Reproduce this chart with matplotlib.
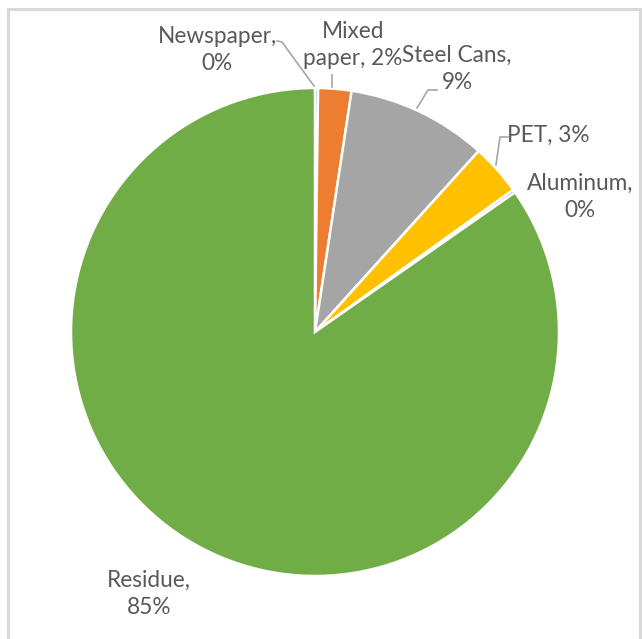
import matplotlib.pyplot as plt
from matplotlib.patches import Rectangle

# material shares (percent)
materials = ["Newspaper", "Mixed paper", "Steel Cans", "PET", "Aluminum", "Residue"]
shares = [0.2, 2.2, 9.3, 3.4, 0.2, 84.7]
colors = ["#4472C4", "#ED7D31", "#A5A5A5", "#FFC000", "#5B9BD5", "#70AD47"]

W, H = 642, 639
fig = plt.figure(figsize=(W / 100, H / 100), dpi=100)
ax = fig.add_axes([0, 0, 1, 1])

# pixel-style coords: y measured from the top
cx, cy, r = 315, H - 332, 244
ax.pie(shares, colors=colors, startangle=90, counterclock=False,
       center=(cx, cy), radius=r, frame=True,
       wedgeprops=dict(edgecolor="white", linewidth=1.8))
ax.set_xlim(0, W)
ax.set_ylim(0, H)
ax.axis("off")

pct = [f"{round(s):.0f}%" for s in shares]
labels = {
    "Newspaper": (f"Newspaper,\n{pct[0]}", (217, 50)),
    "Mixed paper": (f"Mixed\npaper, {pct[1]}", (353, 45)),
    "Steel Cans": (f"Steel Cans,\n{pct[2]}", (457, 69)),
    "PET": (f"PET, {pct[3]}", (548, 135)),
    "Aluminum": (f"Aluminum,\n{pct[4]}", (580, 197)),
    "Residue": (f"Residue,\n{pct[5]}", (149, 594)),
}
txt = "#595959"
font = ["Lato", "DejaVu Sans"]
for name in materials:
    s, (x, y) = labels[name]
    ax.text(x, H - y, s, ha="center", va="center", fontsize=16.3, color=txt,
            family=font, linespacing=1.32)

# leader lines
lc = "#A6A6A6"
leaders = [
    [(277, 41), (282, 42), (314, 86)],
    [(332, 75), (332, 87)],
    [(437, 90), (428, 90), (417, 108)],
    [(508, 137), (500, 137), (496, 165)],
]
for pts in leaders:
    xs = [p[0] for p in pts]
    ys = [H - p[1] for p in pts]
    ax.plot(xs, ys, color=lc, linewidth=1.2)

# chart area border
ax.add_patch(Rectangle((8, -5), 632, H - 4, fill=False,
                       edgecolor="#D9D9D9", linewidth=2.2))

fig.savefig("out.png", dpi=100)
